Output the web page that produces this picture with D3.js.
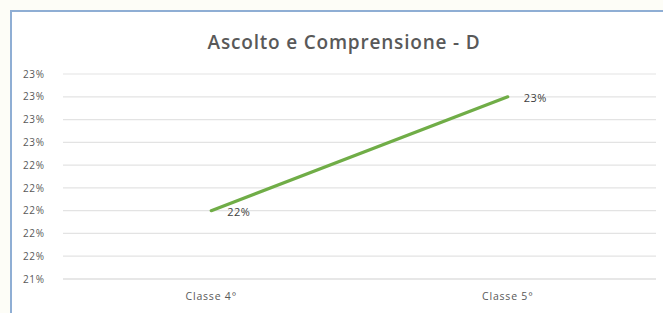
<!DOCTYPE html>
<html>
<head>
<meta charset="utf-8">
<script src="https://cdn.jsdelivr.net/npm/d3@7"></script>
<style>
body{margin:0;background:#fdfdf7;font-family:"Open Sans",Lato,sans-serif;}
svg{display:block;}
</style>
</head>
<body>
<svg id="chart" width="663" height="313"></svg>
<script>
const categories = ["Classe 4°", "Classe 5°"];
const values = [0.22, 0.23];
const yTicks = [0.214, 0.216, 0.218, 0.220, 0.222, 0.224, 0.226, 0.228, 0.230, 0.232];
const title = "Ascolto e Comprensione - D";

const svg = d3.select("#chart");
const W = 663, H = 313;
// cornice
svg.append("rect").attr("x",11).attr("y",11).attr("width",W).attr("height",H)
	.attr("fill","#ffffff").attr("stroke","#8faed4").attr("stroke-width",2);

const plotL = 63, plotR = 656, plotT = 74, plotB = 279;
const x = d3.scaleBand().domain(categories).range([plotL,plotR]);
const y = d3.scaleLinear().domain([0.214,0.232]).range([plotB,plotT]);
const fmt = d => Math.round(d*100) + "%";

// griglia
svg.append("g").selectAll("line").data(yTicks).enter().append("line")
	.attr("x1",plotL).attr("x2",plotR)
	.attr("y1",d=>y(d)).attr("y2",d=>y(d))
	.attr("stroke",(d,i)=>i===0?"#cfcfcf":"#e3e3e3").attr("stroke-width",1.2);

// etichette asse y
const axisY = d3.axisLeft(y).tickValues(yTicks).tickFormat(fmt).tickSize(0).tickPadding(0);
const gy = svg.append("g").attr("transform",`translate(23,0)`).call(axisY);
gy.select(".domain").remove();
gy.selectAll("text").attr("text-anchor","start").attr("x",0)
	.attr("fill","#595959").style("font-size","10px").style("letter-spacing","0.6px")
	.style("font-family","'Open Sans',sans-serif");

// etichette asse x
const axisX = d3.axisBottom(x).tickSize(0).tickPadding(14);
const gx = svg.append("g").attr("transform",`translate(0,${plotB})`).call(axisX);
gx.select(".domain").remove();
gx.selectAll("text").attr("fill","#595959").style("font-size","10.5px").style("letter-spacing","0.8px")
	.style("font-family","'Open Sans',sans-serif");

// linea
const line = d3.line().x((d,i)=>x(categories[i])+x.bandwidth()/2).y(d=>y(d));
svg.append("path").datum(values).attr("d",line)
	.attr("fill","none").attr("stroke","#70ad47").attr("stroke-width",3.2).attr("stroke-linecap","round");

// etichette dati
svg.append("g").selectAll("text").data(values).enter().append("text")
	.attr("x",(d,i)=>x(categories[i])+x.bandwidth()/2+16)
	.attr("y",d=>y(d)+5)
	.attr("fill","#404040").style("font-size","11px").style("letter-spacing","0.5px")
	.text(fmt);

// titolo
svg.append("text").attr("x",344).attr("y",49).attr("text-anchor","middle")
	.attr("fill","#595959").style("font-size","19px").style("font-weight","600")
	.style("letter-spacing","0.8px")
	.text(title);
</script>
</body>
</html>
